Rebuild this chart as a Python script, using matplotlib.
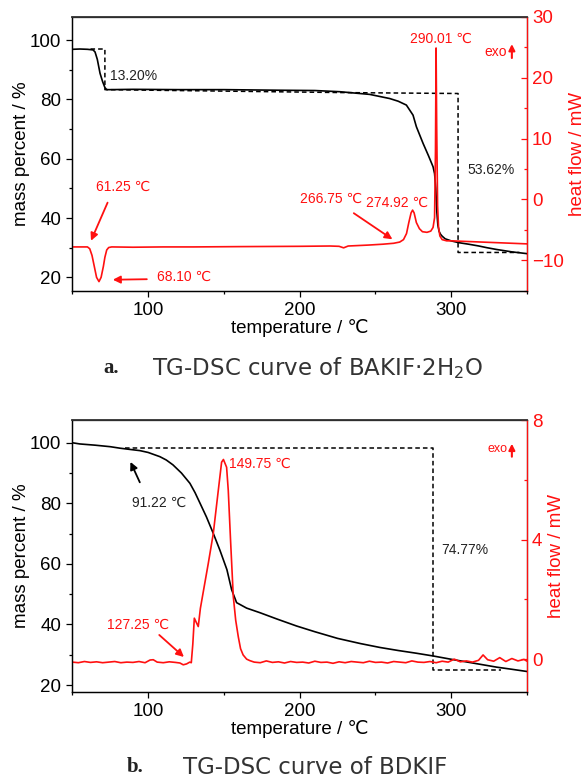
import numpy as np
import matplotlib.pyplot as plt
from matplotlib.ticker import MultipleLocator

plt.rcParams.update({
    "font.family": ["Liberation Sans", "DejaVu Sans"],
    "font.size": 13,
    "axes.linewidth": 0.9,
    "xtick.major.width": 0.9,
    "ytick.major.width": 0.9,
    "xtick.minor.width": 0.9,
    "ytick.minor.width": 0.9,
})

RED = "#ff1010"

# --- panel a: BAKIF.2H2O ---
tg_a_T = [50, 55, 60, 63.7, 65, 66.5, 68.3, 70, 71.5, 72.7, 75, 90, 120, 150, 186.9, 210,
          226.5, 246.2, 259.4, 265, 270.4, 274.8, 277.0, 281.4, 285, 288.0, 289.0, 289.8,
          290.5, 291.2, 292, 293, 294, 296, 300, 305, 311.3, 318, 323.6, 330, 340, 350]
tg_a_m = [96.9, 97.0, 96.9, 96.7, 96.0, 93.5, 88.8, 86.0, 84.0, 83.3, 83.3, 83.4, 83.3, 83.3,
          83.1, 83.0, 82.6, 81.7, 80.3, 79.4, 78.1, 74.7, 70.8, 65.2, 61.0, 57.3, 55.0, 50.0,
          42.0, 37.5, 35.5, 34.5, 33.9, 33.0, 32.3, 31.7, 31.2, 30.6, 30.0, 29.4, 28.6, 28.0]

dsc_a_T = [50, 55, 60, 61.5, 63, 64.5, 66, 67.6, 69, 70.5, 71.5, 72.7, 74, 76, 90, 110, 130,
           160, 200, 220, 226, 229, 232, 245, 255, 262, 266, 268.5, 270.5, 272, 273.5, 274.5,
           275.5, 277, 279, 281, 284, 286.5, 288, 289, 289.6, 290.0, 290.4, 291, 291.6, 292.5,
           294, 297, 300, 310, 330, 350]
dsc_a_hf = [-7.8, -7.8, -7.8, -8.1, -9.2, -11.0, -12.8, -13.5, -12.8, -11.0, -9.5, -8.3, -7.9,
            -7.8, -7.85, -7.8, -7.8, -7.75, -7.7, -7.65, -7.7, -7.95, -7.65, -7.5, -7.35, -7.2,
            -7.0, -6.6, -5.6, -3.8, -2.2, -1.75, -2.2, -3.8, -4.8, -5.3, -5.4, -5.2, -4.6, -3.0,
            8.0, 24.9, 12.0, -1.0, -4.5, -6.0, -6.6, -6.8, -6.8, -6.9, -7.1, -7.3]

# step lines (T, mass)
step_a_T = [62, 71.5, 71.5, 230, 304.5, 304.5, 345]
step_a_m = [97.0, 97.0, 83.3, 82.3, 82.0, 28.4, 28.4]

# --- panel b: BDKIF ---
tg_b_T = [50, 55, 65, 75, 81.5, 88, 94.6, 100, 107.8, 112, 116.4, 122, 127.6, 131, 134.2,
          138.5, 142.9, 147.4, 152, 155.1, 158.4, 165, 173.7, 185, 197.9, 210, 225, 240, 253,
          265, 277, 288, 300, 315, 330, 340, 349.6]
tg_b_m = [100, 99.6, 99.2, 98.7, 98.2, 97.8, 97.4, 96.8, 95.4, 94.3, 92.7, 90.0, 86.6, 83.5,
          80.1, 75.5, 70.2, 64.5, 58.1, 51.5, 47.2, 45.4, 43.9, 41.8, 39.5, 37.6, 35.4, 33.7,
          32.4, 31.4, 30.5, 29.6, 28.5, 27.2, 25.9, 25.2, 24.5]

dsc_b_T = [50, 54, 58, 62, 66, 70, 74, 78, 82, 86, 90, 94, 98, 101.3, 103.4, 106, 110, 114,
           118, 121, 123.2, 125.4, 127.5, 128.5, 129.5, 130.5, 131.6, 133.1, 134.5, 136.4,
           139.7, 143, 146.3, 148.5, 149.7, 151.8, 152.9, 154.4, 156.2, 157.8, 159.5, 161,
           162.7, 165, 167.1, 170, 174, 178, 182, 186, 190, 194, 198, 202, 206, 210, 214, 218,
           222, 226, 230, 234, 238, 242, 246, 250, 254, 258, 262, 266, 270, 274, 278, 282, 286,
           290, 294, 298, 302, 306, 310, 314, 318, 321, 324, 328, 332, 336, 340, 344, 348, 350]
dsc_b_hf = [-0.1, -0.12, -0.08, -0.11, -0.09, -0.12, -0.1, -0.08, -0.12, -0.1, -0.11, -0.08,
            -0.12, -0.03, -0.02, -0.1, -0.12, -0.09, -0.11, -0.13, -0.19, -0.16, -0.1, -0.12,
            0.5, 1.37, 1.25, 1.09, 1.7, 2.25, 3.2, 4.2, 5.64, 6.59, 6.68, 6.42, 5.64, 3.98,
            2.1, 1.3, 0.75, 0.35, 0.14, 0.0, -0.05, -0.1, -0.12, -0.06, -0.11, -0.09, -0.13,
            -0.08, -0.11, -0.1, -0.13, -0.07, -0.11, -0.1, -0.14, -0.09, -0.12, -0.08, -0.1,
            -0.12, -0.07, -0.11, -0.1, -0.13, -0.08, -0.1, -0.12, -0.06, -0.1, -0.11, -0.08,
            -0.12, -0.07, -0.1, 0.0, -0.09, -0.06, -0.1, -0.04, 0.14, -0.02, -0.07, 0.05, -0.08,
            0.02, -0.06, -0.01, -0.07]

step_b_T = [85, 288, 288, 333]
step_b_m = [98.2, 98.2, 25.0, 25.0]


def style_axes(ax, ax2, ylim_l, ylim_r, maj_r, min_r):
    ax.set_xlim(50, 350)
    ax.set_ylim(*ylim_l)
    ax2.set_ylim(*ylim_r)
    ax.xaxis.set_major_locator(MultipleLocator(100))
    ax.xaxis.set_minor_locator(MultipleLocator(50))
    ax.yaxis.set_major_locator(MultipleLocator(20))
    ax.yaxis.set_minor_locator(MultipleLocator(10))
    ax2.yaxis.set_major_locator(MultipleLocator(maj_r))
    ax2.yaxis.set_minor_locator(MultipleLocator(min_r))
    ax.tick_params(which="major", direction="out", length=4.5, labelsize=13.5)
    ax.tick_params(which="minor", direction="out", length=2.5)
    ax.tick_params(top=False)
    ax2.tick_params(which="major", direction="in", length=4.5, colors=RED, labelsize=13.5)
    ax2.tick_params(which="minor", direction="in", length=2.5, colors=RED)
    ax2.spines["right"].set_color(RED)
    ax2.spines["top"].set_color("#333333")
    ax2.spines["top"].set_linewidth(1.3)
    ax.set_xlabel("temperature / \u2103", fontsize=13.5, labelpad=0)
    ax.set_ylabel("mass percent / %", fontsize=13.5, labelpad=0)
    ax2.set_ylabel("heat flow / mW", fontsize=13.5, color=RED, labelpad=4)


fig = plt.figure(figsize=(5.85, 7.79), dpi=100)

ann = dict(fontsize=10, va="center")

# panel a
ax_a = fig.add_axes([0.1236, 0.6268, 0.7773, 0.3514])
ax_a2 = ax_a.twinx()
ax_a.plot(tg_a_T, tg_a_m, color="black", lw=1.2)
ax_a.plot(step_a_T, step_a_m, color="black", lw=1.1, ls=(0, (3, 2)))
ax_a2.plot(dsc_a_T, dsc_a_hf, color=RED, lw=1.2)
style_axes(ax_a, ax_a2, (15.5, 107.8), (-15, 30), 10, 5)

ax_a.text(75, 87.9, "13.20%", color="#222222", **ann)
ax_a.text(311, 56.2, "53.62%", color="#222222", **ann)
ax_a2.text(65.4, 2.0, "61.25 \u2103", color=RED, **ann)
ax_a2.annotate("", xy=(61.6, -7.2), xytext=(74, -0.1),
               arrowprops=dict(arrowstyle="-|>", color=RED, lw=1.3, mutation_scale=11))
ax_a2.text(105.9, -12.7, "68.10 \u2103", color=RED, **ann)
ax_a2.annotate("", xy=(74.9, -13.2), xytext=(101, -13.1),
               arrowprops=dict(arrowstyle="-|>", color=RED, lw=1.3, mutation_scale=11))
ax_a2.text(200.1, 0.07, "266.75 \u2103", color=RED, **ann)
ax_a2.text(243.5, -0.5, "274.92 \u2103", color=RED, **ann)
ax_a2.annotate("", xy=(262.7, -6.8), xytext=(234.2, -2.0),
               arrowprops=dict(arrowstyle="-|>", color=RED, lw=1.3, mutation_scale=11))
ax_a2.text(293.5, 26.4, "290.01 \u2103", ha="center", color=RED, **ann)
ax_a2.text(337, 24.3, "exo", ha="right", color=RED, **ann)
ax_a2.annotate("", xy=(340, 26.0), xytext=(340, 22.8),
               arrowprops=dict(arrowstyle="-|>", color=RED, lw=1.5, mutation_scale=9))

# panel b
ax_b = fig.add_axes([0.1236, 0.1113, 0.7773, 0.3495])
ax_b2 = ax_b.twinx()
ax_b.plot(tg_b_T, tg_b_m, color="black", lw=1.2)
ax_b.plot(step_b_T, step_b_m, color="black", lw=1.1, ls=(0, (3, 2)))
ax_b2.plot(dsc_b_T, dsc_b_hf, color=RED, lw=1.2)
style_axes(ax_b, ax_b2, (17.6, 107.5), (-1.11, 8), 4, 2)

ax_b.text(89.2, 80.1, "91.22 \u2103", color="#222222", **ann)
ax_b.annotate("", xy=(87.6, 94.5), xytext=(95.3, 86.1),
              arrowprops=dict(arrowstyle="-|>", color="black", lw=1.3, mutation_scale=11))
ax_b.text(293.5, 64.6, "74.77%", color="#222222", **ann)
ax_b2.text(153.5, 6.55, "149.75 \u2103", color=RED, **ann)
ax_b2.text(72.7, 1.14, "127.25 \u2103", color=RED, **ann)
ax_b2.annotate("", xy=(125, 0.01), xytext=(106, 0.87),
               arrowprops=dict(arrowstyle="-|>", color=RED, lw=1.3, mutation_scale=11))
ax_b2.text(337, 7.03, "exo", fontsize=9, va="center", ha="right", color=RED)
ax_b2.annotate("", xy=(340, 7.3), xytext=(340, 6.68),
               arrowprops=dict(arrowstyle="-|>", color=RED, lw=1.5, mutation_scale=9))

# captions
cap_font = ["DejaVu Sans"]
fig.text(0.176, 1 - 368 / 779, "a.", fontsize=15, fontweight="bold",
         family=["Liberation Serif"], va="center", color="#222222")
fig.text(0.260, 1 - 368 / 779, "TG-DSC curve of BAKIF\u00b72H$_\\mathregular{2}$O",
         fontsize=16.5, family=cap_font, va="center", color="#333333")
fig.text(0.217, 1 - 767 / 779, "b.", fontsize=15, fontweight="bold",
         family=["Liberation Serif"], va="center", color="#222222")
fig.text(0.313, 1 - 767 / 779, "TG-DSC curve of BDKIF",
         fontsize=16.5, family=cap_font, va="center", color="#333333")

fig.savefig("out.png", dpi=100)
